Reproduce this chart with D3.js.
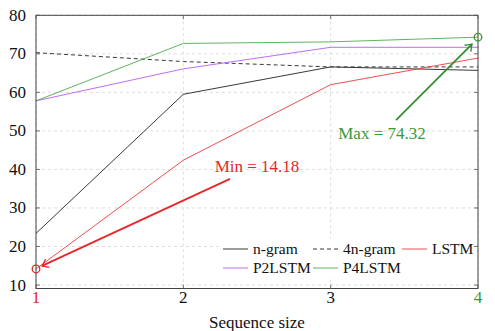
<!DOCTYPE html>
<html>
<head>
<meta charset="utf-8">
<script src="https://cdn.jsdelivr.net/npm/d3@7"></script>
<style>
  body { margin: 0; background: #fff; }
  svg text { font-family: "Liberation Serif", serif; }
</style>
</head>
<body>
<svg id="chart" width="495" height="331"></svg>
<script>
// data
const sizes = [1, 2, 3, 4];
const ngram = [23.4, 59.5, 66.6, 65.7];
const ngram4 = [70.3, 68.0, 66.6, 66.6];
const lstm = [14.18, 42.4, 62.0, 68.9];
const p2lstm = [57.8, 66.1, 71.7, 71.7];
const p4lstm = [57.8, 72.7, 73.1, 74.32];
const yTicks = [10, 20, 30, 40, 50, 60, 70, 80];

const series = [
  {name: 'n-gram', values: ngram, color: '#222', dash: null},
  {name: '4n-gram', values: ngram4, color: '#222', dash: '4,3'},
  {name: 'LSTM', values: lstm, color: '#f03a3a', dash: null},
  {name: 'P2LSTM', values: p2lstm, color: '#b35ef0', dash: null},
  {name: 'P4LSTM', values: p4lstm, color: '#4eaa4e', dash: null}
];

const fs = 17;
const svg = d3.select('#chart');
const x = d3.scaleLinear().domain([1, 4]).range([36, 478]);
const y = d3.scaleLinear().domain([9.1, 80]).range([288.5, 15.3]);
const pLeft = x.range()[0], pRight = x.range()[1];
const pTop = y.range()[1], pBottom = y.range()[0];

// grid
const grid = svg.append('g');
grid.selectAll('.gy').data(yTicks).enter().append('line')
    .attr('x1', pLeft).attr('x2', pRight)
    .attr('y1', d => y(d)).attr('y2', d => y(d))
    .attr('stroke', '#d6d6d6').attr('stroke-dasharray', '3,3').attr('stroke-width', 0.8);
grid.selectAll('.gx').data(sizes).enter().append('line')
    .attr('x1', d => x(d)).attr('x2', d => x(d))
    .attr('y1', pTop).attr('y2', pBottom)
    .attr('stroke', '#d6d6d6').attr('stroke-dasharray', '3,3').attr('stroke-width', 0.8);

// series
const line = d3.line().x((d, i) => x(sizes[i])).y(d => y(d));
series.forEach(s => {
  svg.append('path')
      .attr('d', line(s.values))
      .attr('fill', 'none')
      .attr('stroke', s.color)
      .attr('stroke-width', 0.9)
      .attr('stroke-dasharray', s.dash);
});

// frame and ticks
svg.append('rect')
    .attr('x', pLeft).attr('y', pTop)
    .attr('width', pRight - pLeft).attr('height', pBottom - pTop)
    .attr('fill', 'none').attr('stroke', '#444').attr('stroke-width', 1);

const ticks = svg.append('g').attr('stroke', '#555').attr('stroke-width', 0.8);
yTicks.forEach(t => {
  ticks.append('line').attr('x1', pLeft).attr('x2', pLeft + 4).attr('y1', y(t)).attr('y2', y(t));
  ticks.append('line').attr('x1', pRight).attr('x2', pRight - 4).attr('y1', y(t)).attr('y2', y(t));
});
sizes.forEach(t => {
  ticks.append('line').attr('x1', x(t)).attr('x2', x(t)).attr('y1', pBottom).attr('y2', pBottom - 4);
  ticks.append('line').attr('x1', x(t)).attr('x2', x(t)).attr('y1', pTop).attr('y2', pTop + 4);
});

svg.append('g').selectAll('text').data(yTicks).enter().append('text')
    .attr('x', pLeft - 10).attr('y', d => y(d) + 5.5)
    .attr('text-anchor', 'end').attr('font-size', fs).attr('fill', '#111')
    .text(d => d);

const xTickColor = d => d === 1 ? '#e8262a' : d === 4 ? '#3a9a3a' : '#111';
svg.append('g').selectAll('text').data(sizes).enter().append('text')
    .attr('x', d => x(d)).attr('y', 302.5)
    .attr('text-anchor', 'middle').attr('font-size', fs)
    .attr('fill', xTickColor)
    .text(d => d);

svg.append('text')
    .attr('x', (pLeft + pRight) / 2).attr('y', 327.5)
    .attr('text-anchor', 'middle').attr('font-size', fs).attr('fill', '#111')
    .text('Sequence size');

// arrowheads
const defs = svg.append('defs');
[['arrRed', '#e8262a'], ['arrGreen', '#2f8f2f']].forEach(([id, c]) => {
  defs.append('marker')
      .attr('id', id).attr('viewBox', '-8 -6 10 12')
      .attr('refX', 0).attr('refY', 0)
      .attr('markerWidth', 10).attr('markerHeight', 12)
      .attr('markerUnits', 'userSpaceOnUse')
      .attr('orient', 'auto')
    .append('path')
      .attr('d', 'M-6,-4.5 Q-1.5,-0.8 0,0 Q-1.5,0.8 -6,4.5')
      .attr('fill', 'none').attr('stroke', c).attr('stroke-width', 1.3);
});

// min annotation
const minIdx = lstm.indexOf(d3.min(lstm));
const minPt = [x(sizes[minIdx]), y(lstm[minIdx])];
svg.append('circle')
    .attr('cx', minPt[0]).attr('cy', minPt[1]).attr('r', 3.8)
    .attr('fill', 'none').attr('stroke', '#e8262a').attr('stroke-width', 1.3);
svg.append('line')
    .attr('x1', minPt[0] + 194).attr('y1', minPt[1] - 90)
    .attr('x2', minPt[0] + 6).attr('y2', minPt[1] - 3)
    .attr('stroke', '#e8262a').attr('stroke-width', 1.8)
    .attr('marker-end', 'url(#arrRed)');
svg.append('text')
    .attr('x', minPt[0] + 221).attr('y', minPt[1] - 97)
    .attr('text-anchor', 'middle').attr('font-size', fs).attr('fill', '#e8262a')
    .text('Min = ' + d3.min(lstm).toFixed(2));

// max annotation
const maxIdx = p4lstm.indexOf(d3.max(p4lstm));
const maxPt = [x(sizes[maxIdx]), y(p4lstm[maxIdx])];
svg.append('circle')
    .attr('cx', maxPt[0]).attr('cy', maxPt[1]).attr('r', 3.8)
    .attr('fill', 'none').attr('stroke', '#2f9a2f').attr('stroke-width', 1.3);
svg.append('line')
    .attr('x1', maxPt[0] - 82).attr('y1', maxPt[1] + 83)
    .attr('x2', maxPt[0] - 6).attr('y2', maxPt[1] + 7)
    .attr('stroke', '#2f8f2f').attr('stroke-width', 1.8)
    .attr('marker-end', 'url(#arrGreen)');
svg.append('text')
    .attr('x', maxPt[0] - 96).attr('y', maxPt[1] + 102)
    .attr('text-anchor', 'middle').attr('font-size', fs).attr('fill', '#3a9a3a')
    .text('Max = ' + d3.max(p4lstm).toFixed(2));

// legend
const legend = svg.append('g');
legend.append('rect')
    .attr('x', 219).attr('y', 239).attr('width', 255).attr('height', 38)
    .attr('fill', '#fff');
const cols = [223, 313, 402];
series.forEach((s, i) => {
  const lx = cols[i % 3];
  const ly = 249 + Math.floor(i / 3) * 19;
  legend.append('line')
      .attr('x1', lx).attr('x2', lx + 25).attr('y1', ly).attr('y2', ly)
      .attr('stroke', s.color).attr('stroke-width', 0.9)
      .attr('stroke-dasharray', s.dash);
  legend.append('text')
      .attr('x', lx + 30).attr('y', ly + 5)
      .attr('font-size', 15.5).attr('fill', '#111')
      .text(s.name);
});
</script>
</body>
</html>
